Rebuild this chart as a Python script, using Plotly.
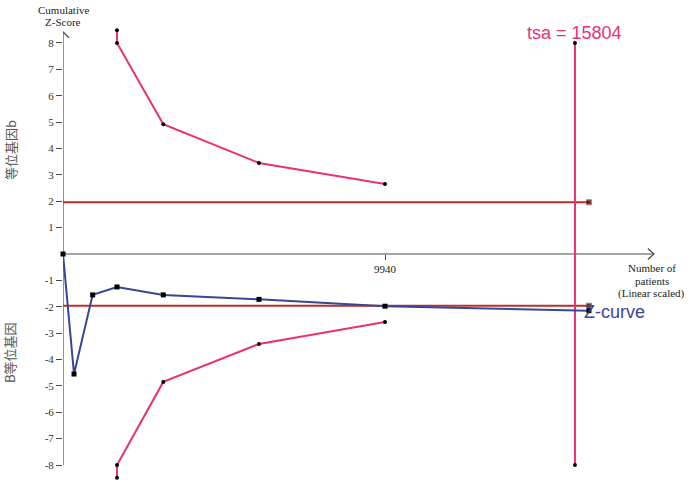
import plotly.graph_objects as go

# ---- data ----
patients = [0, 340, 916, 1667, 3096, 6050, 9940, 16235]
z_curve = [0, -4.55, -1.55, -1.25, -1.55, -1.72, -1.98, -2.15]

bound_x = [1667, 1667, 3096, 6050, 9940]
upper_bound = [8.48, 8.0, 4.92, 3.45, 2.65]
lower_bound = [-8.48, -8.0, -4.85, -3.41, -2.58]

tsa = 15804
conv_z = 1.96
conv_end = 16235

ytick_vals = [8, 7, 6, 5, 4, 3, 2, 1, -1, -2, -3, -4, -5, -6, -7, -8]
ytick_text = [str(v) for v in ytick_vals]
xtick_vals = [9940]
xtick_text = ["9940"]

# ---- styling / layout constants ----
PINK = "#e8317a"
BLUE = "#3a4596"
RED = "#b8302c"
AXIS = "#4a4a4a"
SERIF = "Liberation Serif, Times New Roman, serif"
SANS = "Liberation Sans, Arial, sans-serif"
CJK = "Noto Sans CJK SC, sans-serif"

X_RANGE = [0, 19664]
Y_RANGE = [-8.758, 9.630]
Y_ARROW_TIP = 8.42
X_ARROW_TIP = 18244

fig = go.Figure()

# axes lines with open chevron arrows
fig.add_trace(go.Scatter(x=[0, 0], y=[-8, Y_ARROW_TIP], mode="lines",
                         line=dict(color=AXIS, width=1.2), hoverinfo="skip", cliponaxis=False))
fig.add_trace(go.Scatter(x=[-185, 0, 185], y=[Y_ARROW_TIP - 0.22, Y_ARROW_TIP, Y_ARROW_TIP - 0.22],
                         mode="lines", line=dict(color=AXIS, width=1.2), hoverinfo="skip", cliponaxis=False))
fig.add_trace(go.Scatter(x=[0, X_ARROW_TIP], y=[0, 0], mode="lines",
                         line=dict(color=AXIS, width=1.2), hoverinfo="skip", cliponaxis=False))
fig.add_trace(go.Scatter(x=[X_ARROW_TIP - 190, X_ARROW_TIP, X_ARROW_TIP - 190], y=[0.21, 0, -0.21],
                         mode="lines", line=dict(color=AXIS, width=1.2), hoverinfo="skip", cliponaxis=False))

# conventional boundaries
for sgn in (1, -1):
    fig.add_trace(go.Scatter(x=[0, conv_end], y=[sgn * conv_z, sgn * conv_z], mode="lines+markers",
                             line=dict(color=RED, width=2),
                             marker=dict(color="black", size=[0, 5], symbol="square"),
                             hoverinfo="skip", cliponaxis=False))

# monitoring boundaries
fig.add_trace(go.Scatter(x=bound_x, y=upper_bound, mode="lines+markers",
                         line=dict(color=PINK, width=2),
                         marker=dict(color="black", size=4), cliponaxis=False))
fig.add_trace(go.Scatter(x=bound_x, y=lower_bound, mode="lines+markers",
                         line=dict(color=PINK, width=2),
                         marker=dict(color="black", size=4), cliponaxis=False))

# tsa line
fig.add_trace(go.Scatter(x=[tsa, tsa], y=[8, -8], mode="lines+markers",
                         line=dict(color=PINK, width=2),
                         marker=dict(color="black", size=4), cliponaxis=False))

# z-curve
fig.add_trace(go.Scatter(x=patients, y=z_curve, mode="lines+markers",
                         line=dict(color=BLUE, width=2),
                         marker=dict(color="black", size=5, symbol="square"), cliponaxis=False))


def txt(x, y, text, font, xanchor="center", yanchor="middle", xref="x", yref="y", **kw):
    return dict(x=x, y=y, xref=xref, yref=yref, text=text, showarrow=False,
                font=font, xanchor=xanchor, yanchor=yanchor, **kw)


serif11 = dict(family=SERIF, size=11, color="#222")
cjk13 = dict(family=CJK, size=13, color="#555")
annotations = [
    txt(tsa, 8.38, "tsa = 15804", dict(family=SANS, size=18, color=PINK)),
    txt(16022, -2.2, "Z-curve", dict(family=SANS, size=18, color=BLUE), xanchor="left"),
    txt(0, 9.25, "Cumulative", serif11),
    txt(0, 8.80, "Z-Score", serif11),
    txt(18182, -0.53, "Number of", serif11),
    txt(18182, -1.02, "patients", serif11),
    txt(18182, -1.48, "(Linear scaled)", serif11),
    txt(-0.0832, 0.6907, "等位基因b", cjk13, xref="paper", yref="paper", textangle=-90),
    txt(-0.0832, 0.2722, "B等位基因", cjk13, xref="paper", yref="paper", textangle=-90),
]

fig.update_layout(
    width=700, height=485,
    margin=dict(l=63, r=0, t=0, b=0),
    paper_bgcolor="white", plot_bgcolor="white",
    showlegend=False,
    annotations=annotations,
    xaxis=dict(range=X_RANGE, showgrid=False, zeroline=False, showline=False,
               tickvals=xtick_vals, ticktext=xtick_text, ticks="outside", ticklen=5,
               tickcolor=AXIS, tickfont=dict(family=SERIF, size=11, color="#222"),
               anchor="free", position=(0 - Y_RANGE[0]) / (Y_RANGE[1] - Y_RANGE[0])),
    yaxis=dict(range=Y_RANGE, showgrid=False, zeroline=False, showline=False,
               tickvals=ytick_vals, ticktext=ytick_text, ticks="outside", ticklen=6,
               tickcolor=AXIS, tickfont=dict(family=SERIF, size=11, color="#333")),
)

fig.write_html("out.html", config={"displayModeBar": False},
               post_script="document.body.style.margin='0px';")
